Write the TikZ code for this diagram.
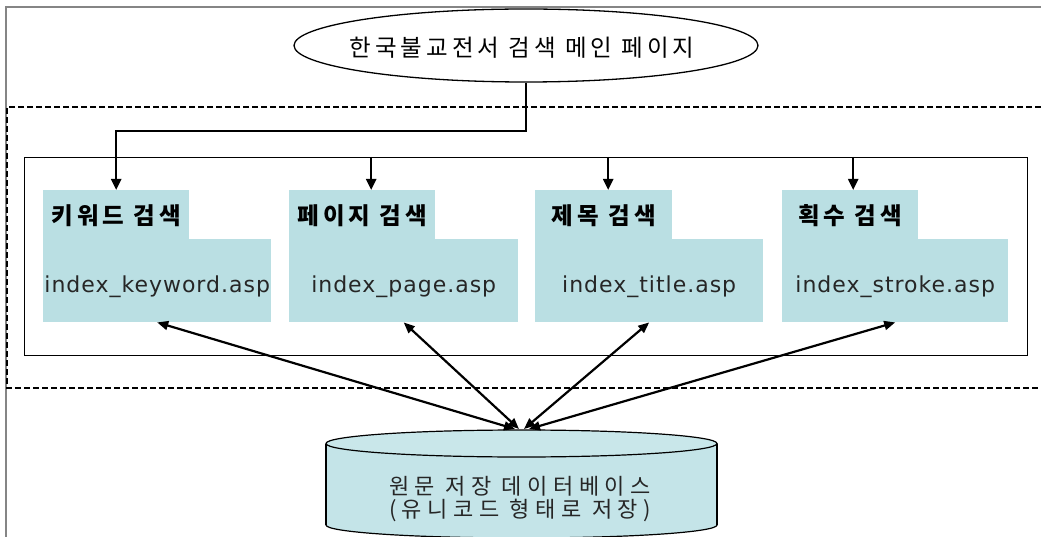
\documentclass[tikz,border=0pt]{standalone}
\usepackage{fontspec}
\setmainfont{DejaVu Sans}
\newfontfamily\krfont{Noto Sans CJK KR}
\newfontfamily\latfont{DejaVu Sans}
\usetikzlibrary{arrows.meta,shapes.geometric}
\definecolor{boxblue}{HTML}{BADFE3}
\definecolor{dbblue}{HTML}{C4E4E8}
\definecolor{dbtop}{HTML}{C9E7EA}
\definecolor{framegray}{HTML}{858585}

\tikzset{
  tabbox/.style={fill=boxblue, inner sep=0, minimum height=49, anchor=north west},
  mainbox/.style={fill=boxblue, inner sep=0, minimum height=83, anchor=north west},
  tablabel/.style={inner sep=0, anchor=base,
    font={\krfont\bfseries\fontsize{23.5}{26}\selectfont\addfontfeature{LetterSpace=17}}},
  filelabel/.style={inner sep=0, anchor=base, text=black!85,
    font={\latfont\fontsize{22}{24}\selectfont\addfontfeature{LetterSpace=4.5}}},
  titlelabel/.style={inner sep=0, anchor=base,
    font={\krfont\fontsize{23.5}{26}\selectfont\addfontfeature{LetterSpace=17}}},
  dblabel/.style={inner sep=0, anchor=base, text=black!85,
    font={\krfont\fontsize{22}{24}\selectfont\addfontfeature{LetterSpace=25}}},
  arr/.style={line width=2.2, -{Triangle[length=11pt,width=10pt]}},
  dblarr/.style={line width=2.2, {Triangle[length=11pt,width=9pt]}-{Triangle[length=11pt,width=9pt]}},
  zone/.style={line width=2, dash pattern=on 6pt off 3pt},
}

\begin{document}
\begin{tikzpicture}[x=1pt,y=-1pt]
\useasboundingbox (0,0) rectangle (1041,537);

% outer page frame
\draw[framegray, line width=1.8] (6,537) -- (6,7) -- (1041,7);

% dashed zone around the search pages
\draw[zone] (1041,107) -- (7,107) -- (7,388) -- (1041,388);

% main page
\node[draw, ellipse, line width=1.3, minimum width=464, minimum height=73, inner sep=0] (home) at (526,45.5) {};
\node[titlelabel] (hometxt) at (522,56.5) {한국불교전서 검색 메인 페이지};

% panel holding the four search pages
\node[draw, line width=1.4, minimum width=1003, minimum height=198, inner sep=0, anchor=north west] (panel) at (24,157) {};

% search page boxes
\node[tabbox, minimum width=146] (t1) at (43,190) {};
\node[mainbox, minimum width=228] (m1) at (43,239) {};
\node[tabbox, minimum width=146] (t2) at (289,190) {};
\node[mainbox, minimum width=229] (m2) at (289,239) {};
\node[tabbox, minimum width=137] (t3) at (535,190) {};
\node[mainbox, minimum width=228] (m3) at (535,239) {};
\node[tabbox, minimum width=136] (t4) at (782,190) {};
\node[mainbox, minimum width=226] (m4) at (782,239) {};

\node[tablabel] (l1) at (t1.center |- 0,225) {키워드 검색};
\node[tablabel] (l2) at (t2.center |- 0,225) {페이지 검색};
\node[tablabel] (l3) at (t3.center |- 0,225) {제목 검색};
\node[tablabel] (l4) at (t4.center |- 0,225) {획수 검색};

\node[filelabel] (f1) at (m1.center |- 0,292) {index\_keyword.asp};
\node[filelabel] (f2) at (m2.center |- 0,292) {index\_page.asp};
\node[filelabel] (f3) at (m3.center |- 0,292) {index\_title.asp};
\node[filelabel] (f4) at (m4.center |- 0,292) {index\_stroke.asp};

% database cylinder
\fill[dbblue] (326,443.5) rectangle (717,525);
\fill[dbblue] (521.5,525) ellipse [x radius=195.5, y radius=13];
\begin{scope}
  \clip (320,525) rectangle (725,545);
  \draw[line width=1.2] (521.5,525) ellipse [x radius=195.5, y radius=13];
\end{scope}
\draw[line width=1.2] (326,443.5) -- (326,525);
\draw[line width=1.2] (717,443.5) -- (717,525);
\filldraw[fill=dbtop, line width=1.2] (521.5,443.5) ellipse [x radius=195.5, y radius=13.5];
\node[dblabel] (db1) at (520,494) {원문 저장 데이터베이스};
\node[dblabel] (db2) at (520,517) {(유니코드 형태로 저장)};

% entry points on the top of the cylinder
\coordinate (d1) at (515,429);
\coordinate (d2) at (519,429);
\coordinate (d3) at (524,429);
\coordinate (d4) at (529,429);

% main page to the keyword search
\coordinate (bend) at (t1.north |- 0,131);
\draw[arr] (home.south) -- (home.south |- bend) -- (bend) -- (t1.north);

% panel to the other search pages
\coordinate (a2) at ([xshift=9pt]t2.north);
\coordinate (a3) at ([xshift=4.5pt]t3.north);
\coordinate (a4) at ([xshift=3pt]t4.north);
\draw[arr] (a2 |- panel.north) -- (a2);
\draw[arr] (a3 |- panel.north) -- (a3);
\draw[arr] (a4 |- panel.north) -- (a4);

% search pages and database
\draw[dblarr] (m1.south) -- (d1);
\draw[dblarr] (m2.south) -- (d2);
\draw[dblarr] (m3.south) -- (d3);
\draw[dblarr] (m4.south) -- (d4);
\end{tikzpicture}
\end{document}
